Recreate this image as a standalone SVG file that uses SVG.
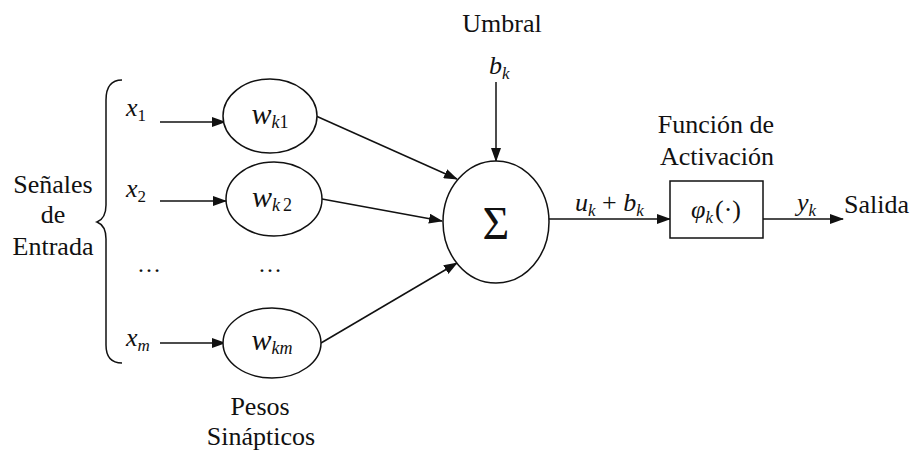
<svg xmlns="http://www.w3.org/2000/svg" width="911" height="452" viewBox="0 0 911 452">
<defs>
  <marker id="ah" markerUnits="userSpaceOnUse" markerWidth="14" markerHeight="10" refX="13" refY="5" orient="auto">
    <path d="M0,0 L14,5 L0,10 Z" fill="#111"/>
  </marker>
</defs>

<g id="connectors" fill="none" stroke="#111" stroke-width="1.5">
  <line x1="160" y1="122" x2="225" y2="122" marker-end="url(#ah)"/>
  <line x1="160" y1="201" x2="226" y2="201" marker-end="url(#ah)"/>
  <line x1="160" y1="343" x2="225" y2="343" marker-end="url(#ah)"/>
  <line x1="316" y1="116" x2="457" y2="179" marker-end="url(#ah)"/>
  <line x1="322" y1="199" x2="442" y2="221" marker-end="url(#ah)"/>
  <line x1="321" y1="343" x2="457" y2="263" marker-end="url(#ah)"/>
  <line x1="496" y1="82" x2="496" y2="161" marker-end="url(#ah)"/>
  <line x1="549" y1="219" x2="670" y2="219" marker-end="url(#ah)"/>
  <line x1="763" y1="219" x2="843" y2="219" marker-end="url(#ah)"/>
</g>

<g id="inputs">
  <path fill="none" stroke="#111" stroke-width="1.5" d="M122,80 C110,80 106,88 106,100 L106,205 C106,215 102,220 97,222 C102,224 106,229 106,239 L106,345 C106,356 110,363 122,363"/>
  <text font-family="Liberation Serif" fill="#111" x="53" y="193" text-anchor="middle" font-size="26">Señales</text>
  <text font-family="Liberation Serif" fill="#111" x="53" y="223" text-anchor="middle" font-size="26">de</text>
  <text font-family="Liberation Serif" fill="#111" x="53" y="255" text-anchor="middle" font-size="26">Entrada</text>
  <text font-family="Liberation Serif" font-style="italic" fill="#111" x="126" y="116" font-size="26">x<tspan font-style="normal" font-size="17" dy="5">1</tspan></text>
  <text font-family="Liberation Serif" font-style="italic" fill="#111" x="126" y="197" font-size="26">x<tspan font-style="normal" font-size="17" dy="5">2</tspan></text>
  <text font-family="Liberation Serif" font-style="italic" fill="#111" x="126" y="346" font-size="26">x<tspan font-size="17" dy="5">m</tspan></text>
  <text font-family="Liberation Serif" fill="#111" x="149" y="272" text-anchor="middle" font-size="24">…</text>
  <text font-family="Liberation Serif" fill="#111" x="270" y="272" text-anchor="middle" font-size="24">…</text>
</g>

<g id="w1">
  <ellipse fill="#fff" stroke="#111" stroke-width="1.5" cx="270" cy="116" rx="47" ry="37"/>
  <text font-family="Liberation Serif" font-style="italic" fill="#111" x="270" y="124" text-anchor="middle" font-size="30">w<tspan font-size="18" dy="4">k</tspan><tspan font-style="normal" font-size="18">1</tspan></text>
</g>
<g id="w2">
  <ellipse fill="#fff" stroke="#111" stroke-width="1.5" cx="274" cy="199" rx="48" ry="37"/>
  <text font-family="Liberation Serif" font-style="italic" fill="#111" x="272" y="207" text-anchor="middle" font-size="30">w<tspan font-size="18" dy="4">k</tspan><tspan font-style="normal" font-size="18" dx="3">2</tspan></text>
</g>
<g id="wm">
  <ellipse fill="#fff" stroke="#111" stroke-width="1.5" cx="272" cy="343" rx="49" ry="35"/>
  <text font-family="Liberation Serif" font-style="italic" fill="#111" x="272" y="350" text-anchor="middle" font-size="30">w<tspan font-size="18" dy="4">km</tspan></text>
  <text font-family="Liberation Serif" fill="#111" x="260" y="415" text-anchor="middle" font-size="26">Pesos</text>
  <text font-family="Liberation Serif" fill="#111" x="261" y="445" text-anchor="middle" font-size="26">Sinápticos</text>
</g>

<g id="sum">
  <ellipse fill="#fff" stroke="#111" stroke-width="1.5" cx="496" cy="222" rx="53" ry="61"/>
  <text font-family="Liberation Serif" fill="#111" x="496" y="239" text-anchor="middle" font-size="46">Σ</text>
  <text font-family="Liberation Serif" fill="#111" x="502" y="32" text-anchor="middle" font-size="26">Umbral</text>
  <text font-family="Liberation Serif" font-style="italic" fill="#111" x="489" y="74" font-size="26">b<tspan font-size="17" dy="5">k</tspan></text>
</g>

<g id="activation">
  <rect fill="#fff" stroke="#111" stroke-width="1.5" x="670" y="181" width="93" height="57"/>
  <text font-family="Liberation Serif" fill="#111" x="716" y="133" text-anchor="middle" font-size="26">Función de</text>
  <text font-family="Liberation Serif" fill="#111" x="717" y="165" text-anchor="middle" font-size="26">Activación</text>
  <text font-family="Liberation Serif" font-style="italic" fill="#111" x="716" y="218" text-anchor="middle" font-size="26">φ<tspan font-size="17" dy="5">k</tspan><tspan font-style="normal" dy="-5" dx="2">(·)</tspan></text>
  <text font-family="Liberation Serif" font-style="italic" fill="#111" x="575" y="211" font-size="26">u<tspan font-size="17" dy="5">k</tspan><tspan font-style="normal" dy="-5"> + </tspan>b<tspan font-size="17" dy="5">k</tspan></text>
  <text font-family="Liberation Serif" font-style="italic" fill="#111" x="797" y="211" font-size="26">y<tspan font-size="17" dy="5">k</tspan></text>
  <text font-family="Liberation Serif" fill="#111" x="844" y="213" font-size="26">Salida</text>
</g>
</svg>
